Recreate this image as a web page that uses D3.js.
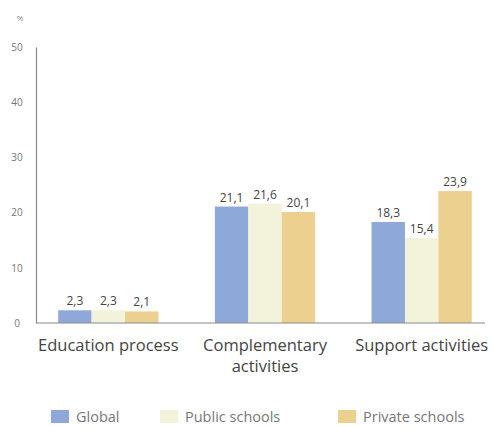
<!DOCTYPE html>
<html>
<head>
<meta charset="utf-8">
<script src="https://cdn.jsdelivr.net/npm/d3@7"></script>
<style>
  html, body { margin: 0; padding: 0; background: #fff; }
  svg { display: block; }
  text { font-family: "Open Sans", "Noto Sans", sans-serif; }
</style>
</head>
<body>
<svg id="chart" width="494" height="427"></svg>
<script>
// Chart data
const categories = [["Education process"], ["Complementary", "activities"], ["Support activities"]];
const seriesNames = ["Global", "Public schools", "Private schools"];
const globalValues = [2.3, 21.1, 18.3];
const publicValues = [2.3, 21.6, 15.4];
const privateValues = [2.1, 20.1, 23.9];
const yTicks = [0, 10, 20, 30, 40, 50];
const seriesColors = ["#8ea8da", "#f3f2da", "#ecd08f"];

const series = [globalValues, publicValues, privateValues];
const svg = d3.select("#chart");

const x0 = d3.scaleBand().domain(d3.range(categories.length)).range([30, 500]).paddingInner(0.36).paddingOuter(0.18);
const x1 = d3.scaleBand().domain(d3.range(seriesNames.length)).range([0, x0.bandwidth()]);
const y = d3.scaleLinear().domain([0, 50]).range([323, 47]);

const fmt = v => d3.format(".1f")(v).replace(".", ",");

// Y axis
const yAxis = svg.append("g").attr("transform", "translate(36,0)")
  .call(d3.axisLeft(y).tickValues(yTicks).tickSize(0).tickPadding(19));
yAxis.select(".domain").attr("stroke", "#8a8a8a").attr("stroke-width", 1.2);
yAxis.selectAll("text").attr("fill", "#777").attr("font-size", 10).attr("text-anchor", "middle");

svg.append("text").attr("x", 20).attr("y", 21).attr("text-anchor", "middle")
  .attr("fill", "#888").attr("font-size", 8).text("%");

// Bars
const groups = svg.selectAll("g.cat").data(categories).join("g")
  .attr("class", "cat")
  .attr("transform", (d, i) => `translate(${x0(i)},0)`);

groups.each(function(cat, ci) {
  const g = d3.select(this);
  series.forEach((vals, si) => {
    g.append("rect")
      .attr("x", x1(si))
      .attr("y", y(vals[ci]))
      .attr("width", x1.bandwidth())
      .attr("height", y(0) - y(vals[ci]))
      .attr("fill", seriesColors[si]);
    g.append("text")
      .attr("x", x1(si) + x1.bandwidth() / 2)
      .attr("y", y(vals[ci]) - 5)
      .attr("text-anchor", "middle")
      .attr("fill", "#444")
      .attr("font-size", 12)
      .text(fmt(vals[ci]));
  });
});

// X axis baseline
svg.append("line").attr("x1", 36).attr("x2", 485).attr("y1", y(0)).attr("y2", y(0))
  .attr("stroke", "#8a8a8a").attr("stroke-width", 1.2);

// Category labels, one text element per line
categories.forEach((lines, i) => {
  const cx = x0(i) + x0.bandwidth() / 2;
  lines.forEach((ln, k) => {
    svg.append("text")
      .attr("x", cx)
      .attr("y", 351 + k * 21)
      .attr("text-anchor", "middle")
      .attr("fill", "#444")
      .attr("font-size", 16.5)
      .text(ln);
  });
});

// Legend
const legendX = [51, 160, 338];
seriesNames.forEach((name, i) => {
  svg.append("rect").attr("x", legendX[i]).attr("y", 410).attr("width", 18).attr("height", 13)
    .attr("fill", seriesColors[i]);
  svg.append("text").attr("x", legendX[i] + 25).attr("y", 422)
    .attr("fill", "#777").attr("font-size", 14.5).text(name);
});
</script>
</body>
</html>
